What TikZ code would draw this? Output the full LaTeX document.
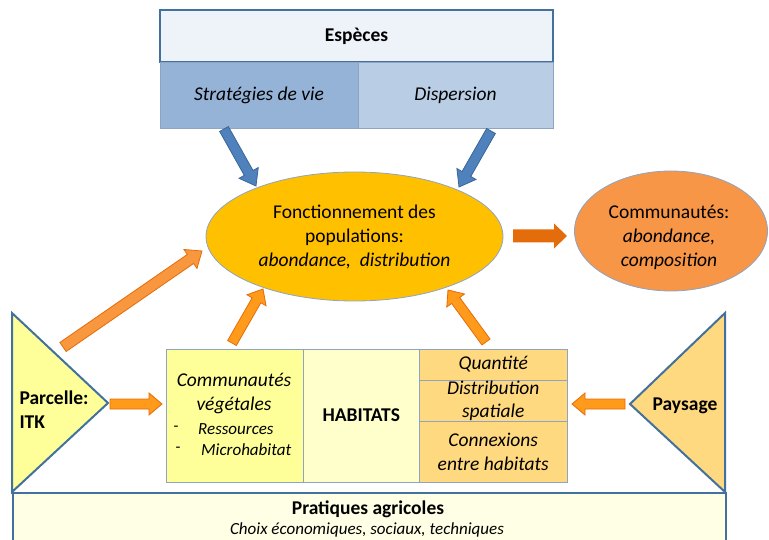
\documentclass[tikz,border=0pt]{standalone}
\usepackage{fontspec}
\setmainfont{Carlito}
\usetikzlibrary{calc,shapes.geometric}
\definecolor{frame}{HTML}{41719C}
\definecolor{thin}{HTML}{8EA4C2}
\definecolor{esptop}{HTML}{EEF2F9}
\definecolor{strat}{HTML}{95B3D7}
\definecolor{disp}{HTML}{B9CDE5}
\definecolor{bluefill}{HTML}{4F81BD}
\definecolor{blueline}{HTML}{3A6798}
\definecolor{gold}{HTML}{FFC000}
\definecolor{orangeell}{HTML}{F79646}
\definecolor{darkor}{HTML}{E46C0A}
\definecolor{orfill}{HTML}{FF9A1A}
\definecolor{orfill2}{HTML}{F8973E}
\definecolor{yel}{HTML}{FFFF99}
\definecolor{paleyel}{HTML}{FFFFCC}
\definecolor{lightor}{HTML}{FFD980}
\definecolor{cream}{HTML}{FFFFE6}
\newcommand\barr[6]{%
  \coordinate (ba-h) at ($(#2)!#5!(#1)$);
  \path[#6] ($(#1)!#3!90:(#2)$) -- ($(ba-h)!#3!90:(#2)$) -- ($(ba-h)!#4!90:(#2)$)
    -- (#2) -- ($(ba-h)!#4!-90:(#2)$) -- ($(ba-h)!#3!-90:(#2)$) -- ($(#1)!#3!-90:(#2)$) -- cycle;
}
\begin{document}
\begin{tikzpicture}[x=1pt,y=-1pt,
  txt/.style={font=\fontsize{19.5}{24}\selectfont, align=center, text=black},
  small/.style={font=\fontsize{17}{21}\selectfont\itshape, text=black},
  box/.style={rectangle, draw=thin, line width=0.8pt, inner sep=0pt, txt},
  bluearr/.style={fill=bluefill, draw=blueline, line width=0.8pt},
  orarr/.style={fill=orfill, draw=darkor, line width=0.8pt},
  orarrb/.style={fill=orfill2, draw=darkor, line width=0.8pt},
  darkarr/.style={fill=darkor},
  thick frame/.style={draw=frame, line width=2pt}
]
\useasboundingbox (0,0) rectangle (769,540);

% bottom box
\node[rectangle, thick frame, fill=cream, minimum width=713, minimum height=70, inner sep=0pt, anchor=north west] (prat) at (12,492) {};
\node[txt, font=\fontsize{19.5}{24}\selectfont\bfseries] (pratt) at (368,509) {Pratiques agricoles};
\node[small] (choix) at (367,530) {Choix économiques, sociaux, techniques};

% triangles
\draw[thick frame, fill=yel, line join=miter] (12,313) -- (108,403) -- (12,492) -- cycle;
\node[txt, font=\fontsize{19.5}{24}\selectfont\bfseries, align=left, anchor=west] (parc) at (16,410) {Parcelle:\\ITK};
\draw[thick frame, fill=lightor, line join=miter] (725,313) -- (630,404) -- (725,492) -- cycle;
\node[txt, font=\fontsize{19.5}{24}\selectfont\bfseries] (pays) at (685,406) {Paysage};

% Especes
\node[box, draw=frame, line width=2pt, fill=esptop, minimum width=393, minimum height=52, font=\fontsize{19.5}{24}\selectfont\bfseries] (esp) at (356.5,36) {Espèces};
\node[box, fill=strat, minimum width=198, minimum height=66, font=\fontsize{19.5}{24}\selectfont\itshape] (strat) at (259,95) {Stratégies de vie};
\node[box, fill=disp, minimum width=195, minimum height=66, font=\fontsize{19.5}{24}\selectfont\itshape] (disp) at (455.5,95) {Dispersion};

% ellipses
\node[ellipse, draw=thin, line width=0.8pt, fill=gold, minimum width=297, minimum height=129, inner sep=0pt] (pop) at (354.5,236.5) {};
\node[txt] (popt) at (354.5,237) {Fonctionnement des\\populations:\\\itshape abondance,\ \ distribution};
\node[ellipse, draw=thin, line width=0.8pt, fill=orangeell, minimum width=193, minimum height=120, inner sep=0pt] (comm) at (671,231) {};
\node[txt] (commt) at (669,237) {Communautés:\\\itshape abondance,\\\itshape composition};

% habitat boxes
\node[box, fill=yel, minimum width=136.5, minimum height=133] (veg) at (234.75,415.5) {};
\node[txt, font=\fontsize{19.5}{24}\selectfont\itshape] (vegt) at (234,394) {Communautés\\végétales};
\node[small, anchor=center] (d1) at (176,429) {-};
\node[small, anchor=west, inner sep=0pt] (res) at (198,429) {Ressources};
\node[small, anchor=center] (d2) at (178,450) {-};
\node[small, anchor=west, inner sep=0pt] (micro) at (201,450) {Microhabitat};
\node[box, fill=paleyel, minimum width=116.5, minimum height=133, font=\fontsize{19.5}{24}\selectfont\bfseries] (hab) at (361.25,415.5) {HABITATS};
\node[box, fill=lightor, minimum width=147.5, minimum height=31, font=\fontsize{19.5}{24}\selectfont\itshape] (quant) at (493.25,364.5) {Quantité};
\node[box, fill=lightor, minimum width=147.5, minimum height=41, font=\fontsize{19.5}{23}\selectfont\itshape] (dist) at (493.25,400.5) {Distribution\\spatiale};
\node[box, fill=lightor, minimum width=147.5, minimum height=61, font=\fontsize{19.5}{24}\selectfont\itshape] (conn) at (493.25,451.5) {Connexions\\entre habitats};

% arrow end points
\coordinate (b1s) at (224,129);
\coordinate (b1e) at (256,186);
\coordinate (b2s) at (491,131);
\coordinate (b2e) at (459,187);
\coordinate (o1s) at (63,347);
\coordinate (o1e) at (202,251);
\coordinate (o2s) at (232,343);
\coordinate (o2e) at (263,289);
\coordinate (o3s) at (486,342);
\coordinate (o3e) at (448,290);
\coordinate (o4s) at (110,404);
\coordinate (o4e) at (162,404);
\coordinate (o5s) at (625,404);
\coordinate (o5e) at (572,404);
\coordinate (r1s) at (513,236);
\coordinate (r1e) at (567,236);

\barr{b1s}{b1e}{5pt}{11pt}{15pt}{bluearr}
\barr{b2s}{b2e}{5pt}{11pt}{15pt}{bluearr}
\barr{o1s}{o1e}{5.5pt}{11.5pt}{14pt}{orarrb}
\barr{o2s}{o2e}{5pt}{11pt}{13pt}{orarr}
\barr{o3s}{o3e}{5pt}{11pt}{13pt}{orarr}
\barr{o4s}{o4e}{5pt}{11pt}{13pt}{orarr}
\barr{o5s}{o5e}{5pt}{11pt}{13pt}{orarr}
\barr{r1s}{r1e}{6.5pt}{12.5pt}{13pt}{darkarr}
\end{tikzpicture}
\end{document}
